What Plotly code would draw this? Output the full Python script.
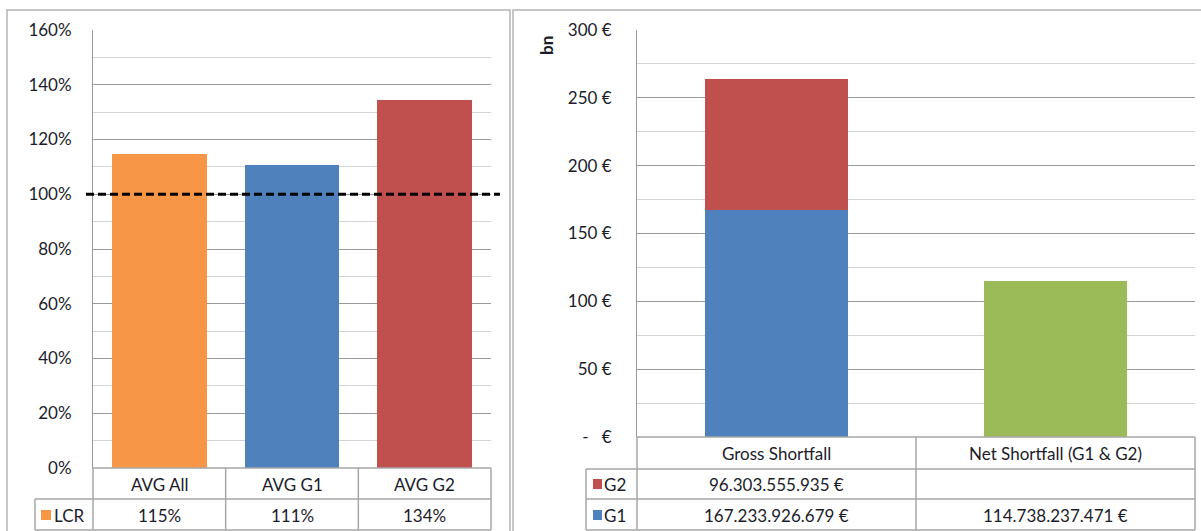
import plotly.graph_objects as go

# ---------------- data ----------------
lcr_categories = ["AVG All", "AVG G1", "AVG G2"]
lcr_values = [1.147, 1.106, 1.344]
lcr_colors = ["#F79646", "#4F81BD", "#C0504D"]
lcr_series_name = "LCR"
lcr_threshold = 1.0
lcr_tickvals = [0, 0.2, 0.4, 0.6, 0.8, 1.0, 1.2, 1.4, 1.6]

shortfall_categories = ["Gross Shortfall", "Net Shortfall (G1 & G2)"]
g1_values = [167233926679, 114738237471]
g2_values = [96303555935, None]
g1_colors = ["#4F81BD", "#9BBB59"]
g2_color = "#C0504D"
eur_tickvals = [0, 50, 100, 150, 200, 250, 300]
eur_ticktext = ["-\u00a0\u00a0\u00a0€", "50 €", "100 €", "150 €", "200 €", "250 €", "300 €"]
unit_label = "bn"

# ---------------- layout helpers ----------------
W, H = 1201, 531
def px(x):
    return x / W
def py(y):
    return 1 - y / H

FONT = "Lato"
FS = 17
TXT = "#1c1c2a"
GRID_MAJ = "#9a9a9a"
GRID_MIN = "#d4d4d4"
TABLE = "#a6a6a6"

L_X0, L_X1, L_Y0, L_Y1 = 93, 491, 468, 30
R_X0, R_X1, R_Y0, R_Y1 = 637, 1195, 437, 30

fig = go.Figure()

fig.add_trace(go.Bar(
    x=lcr_categories, y=lcr_values, marker=dict(color=lcr_colors, line=dict(width=0)),
    width=0.716, name=lcr_series_name, xaxis="x", yaxis="y", showlegend=False,
))

fig.add_trace(go.Bar(
    x=shortfall_categories, y=[v / 1e9 for v in g1_values],
    marker=dict(color=g1_colors, line=dict(width=0)),
    width=0.51, name="G1", xaxis="x2", yaxis="y2", showlegend=False,
))
fig.add_trace(go.Bar(
    x=shortfall_categories, y=[(v / 1e9 if v is not None else None) for v in g2_values],
    marker=dict(color=g2_color, line=dict(width=0)),
    width=0.51, name="G2", xaxis="x2", yaxis="y2", showlegend=False,
))

shapes = []
annotations = []

# panel borders
shapes.append(dict(type="rect", xref="paper", yref="paper", x0=px(7), x1=px(510), y0=py(545), y1=py(10),
                   line=dict(color="#b4b4b4", width=1.5), layer="below"))
shapes.append(dict(type="rect", xref="paper", yref="paper", x0=px(513), x1=px(1215), y0=py(545), y1=py(10),
                   line=dict(color="#b4b4b4", width=1.5), layer="below"))

# threshold line
shapes.append(dict(type="line", xref="paper", yref="y", x0=px(86), x1=px(500), y0=lcr_threshold, y1=lcr_threshold,
                   line=dict(color="black", width=3, dash="8px,4px"), layer="above"))

def hline(x0, x1, y):
    shapes.append(dict(type="line", xref="paper", yref="paper", x0=px(x0), x1=px(x1), y0=py(y), y1=py(y),
                       line=dict(color=TABLE, width=1.5)))
def vline(x, y0, y1):
    shapes.append(dict(type="line", xref="paper", yref="paper", x0=px(x), x1=px(x), y0=py(y0), y1=py(y1),
                       line=dict(color=TABLE, width=1.5)))

def txt(text, x, xref, y, xanchor="center", **kw):
    annotations.append(dict(x=x, xref=xref, y=py(y), yref="paper", text=text, showarrow=False,
                            font=dict(family=FONT, size=FS, color=TXT), xanchor=xanchor,
                            yanchor="middle", **kw))

# ---- left table ----
n = len(lcr_categories)
l_bounds = [L_X0 + (L_X1 - L_X0) * i / n for i in range(n + 1)]
LEG_L = 35
hline(L_X0, L_X1, 468)
hline(LEG_L, L_X1, 499)
hline(LEG_L, L_X1, 530)
for b in l_bounds:
    vline(b, 468, 530)
vline(LEG_L, 499, 530)
for c, v in zip(lcr_categories, lcr_values):
    txt(c, c, "x", 484)
    txt(f"{v:.0%}", c, "x", 515)
shapes.append(dict(type="rect", xref="paper", yref="paper", x0=px(41), x1=px(51), y0=py(520), y1=py(510),
                   fillcolor=lcr_colors[0], line=dict(width=0)))
txt(lcr_series_name, px(52), "paper", 515, xanchor="left")

# ---- right table ----
m = len(shortfall_categories)
r_bounds = [R_X0 + (R_X1 - R_X0) * i / m for i in range(m + 1)]
LEG_R = 586
hline(R_X0, R_X1, 437)
hline(LEG_R, R_X1, 469)
hline(LEG_R, R_X1, 499)
hline(LEG_R, R_X1, 530)
for b in r_bounds:
    vline(b, 437, 530)
vline(LEG_R, 469, 530)

def eur(v):
    return f"{v:,}".replace(",", ".") + " €"

rows = [("G2", g2_values, g2_color, 484), ("G1", g1_values, g1_colors[0], 515)]
for c in shortfall_categories:
    txt(c, c, "x2", 453)
for name, vals, col, yc in rows:
    for c, v in zip(shortfall_categories, vals):
        if v is None:
            continue
        txt(eur(v), c, "x2", yc)
    shapes.append(dict(type="rect", xref="paper", yref="paper", x0=px(593), x1=px(602), y0=py(yc + 5), y1=py(yc - 5),
                       fillcolor=col, line=dict(width=0)))
    txt(name, px(602), "paper", yc, xanchor="left")

txt(f"<b>{unit_label}</b>", px(546), "paper", 46, textangle=-90)

fig.update_layout(
    width=W, height=H, margin=dict(l=0, r=0, t=0, b=0, pad=0, autoexpand=False),
    paper_bgcolor="white", plot_bgcolor="white",
    barmode="stack", showlegend=False,
    font=dict(family=FONT, size=FS, color=TXT),
    xaxis=dict(domain=[px(L_X0), px(L_X1)], anchor="y", showticklabels=False, showgrid=False,
               showline=False, zeroline=False, ticks="", automargin=False),
    yaxis=dict(domain=[py(L_Y0), py(L_Y1)], anchor="x", range=[0, 1.6], tickvals=lcr_tickvals,
               tickformat=".0%", showgrid=True, gridcolor=GRID_MAJ, gridwidth=1,
               minor=dict(dtick=0.1, showgrid=True, gridcolor=GRID_MIN, gridwidth=1),
               showline=True, linecolor=GRID_MAJ, linewidth=1, zeroline=False, ticks="",
               automargin=False, ticklabelstandoff=17, tickfont=dict(family=FONT, size=FS, color=TXT)),
    xaxis2=dict(domain=[px(R_X0), px(R_X1)], anchor="y2", showticklabels=False, showgrid=False,
                showline=False, zeroline=False, ticks="", automargin=False),
    yaxis2=dict(domain=[py(R_Y0), py(R_Y1)], anchor="x2", range=[0, 300], tickvals=eur_tickvals,
                ticktext=eur_ticktext, showgrid=True, gridcolor=GRID_MAJ, gridwidth=1,
                minor=dict(dtick=25, showgrid=True, gridcolor=GRID_MIN, gridwidth=1),
                showline=True, linecolor=GRID_MAJ, linewidth=1, zeroline=False, ticks="",
                automargin=False, ticklabelstandoff=21, tickfont=dict(family=FONT, size=FS, color=TXT)),
    shapes=shapes, annotations=annotations,
)

fig.write_html("out.html", config={"displayModeBar": False},
               post_script="document.body.style.margin='0';document.body.style.overflow='hidden';")
